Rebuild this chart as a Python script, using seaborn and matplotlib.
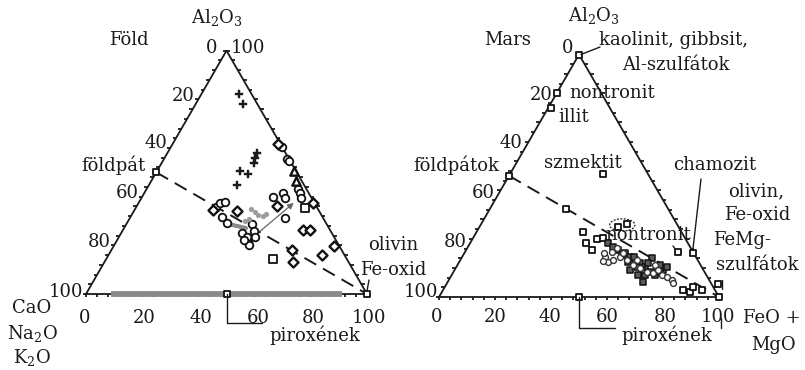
import numpy as np
import matplotlib
matplotlib.use("Agg")
import matplotlib.pyplot as plt
from matplotlib.lines import Line2D
from matplotlib.patches import Ellipse
from matplotlib.collections import LineCollection
import seaborn as sns

sns.set_style("white")
plt.rcParams["font.family"] = ["DejaVu Serif"]
plt.rcParams["mathtext.fontset"] = "dejavuserif"

# ---------------- Föld (Earth) : Al2O3 %, FeO+MgO % (remainder CaO+Na2O+K2O)
earth_plus_al = [82.2, 78.1, 57.9, 55.9, 53.8, 50.5, 49.3, 44.8]
earth_plus_fm = [13.3, 16.9, 31.9, 32.2, 32.9, 29.5, 33.0, 31.3]

earth_circle_al = [60.4, 55.5, 54.7, 43.1, 41.5, 39.4, 39.9, 41.5, 39.4, 31.2,
                   35.8, 37.4, 37.8, 31.6, 29.2, 25.1, 21.4, 20.1, 28.8, 25.9,
                   23.4, 23.4, 22.2]
earth_circle_fm = [39.6, 43.8, 44.9, 53.8, 55.4, 56.8, 46.6, 49.4, 51.1, 55.2,
                   28.4, 29.0, 30.6, 32.6, 35.6, 43.0, 47.0, 47.9, 44.7, 46.8,
                   48.4, 45.6, 45.1]

earth_diamond_al = [61.6, 37.4, 19.7, 16.0, 26.3, 26.3, 18.1, 13.1, 36.2, 34.5, 34.1]
earth_diamond_fm = [37.5, 62.1, 78.4, 76.0, 64.1, 66.6, 64.3, 67.1, 49.9, 27.9, 36.7]

earth_triangle_al = [50.5, 46.4]
earth_triangle_fm = [48.7, 51.5]

earth_square_al = [35.3, 14.4]
earth_square_fm = [60.2, 59.3]

earth_grey_al = [34.9, 33.7, 32.5, 32.1, 32.9, 30.0, 30.8]
earth_grey_fm = [41.3, 43.3, 45.0, 47.0, 47.6, 41.6, 42.6]

earth_trend_al = [28.8, 27.1]
earth_trend_fm = [36.1, 43.4]
earth_arrow_al = [25.1, 38.2]
earth_arrow_fm = [48.7, 55.6]

earth_pyroxene_range = [9.0, 91.0]

# end members: földpát, piroxének, olivin/Fe-oxid
earth_ref_al = [50, 0, 0]
earth_ref_fm = [0, 50, 100]

# ---------------- Mars
mars_ref_al = [100, 84, 78, 50, 50.7, 36.3, 18.1, 18.6, 28.9, 30.1, 0, 0,
               2.9, 2.1, 4.1, 2.9, 5.4]
mars_ref_fm = [0, 0, 1, 0, 33.2, 27.2, 81.6, 76.1, 49.5, 52.1, 50, 100,
               85.7, 88.6, 88.7, 92.5, 96.9]

mars_open_sq_al = [26.8, 22.3, 19.4, 23.9, 24.3]
mars_open_sq_fm = [38.0, 41.4, 44.9, 44.5, 46.4]

mars_dark_sq_al = [22.3, 20.6, 19.4, 18.1, 16.5, 15.3, 14.0, 12.4, 10.3, 12.0,
                   11.1, 12.4, 6.2, 9.1, 11.1, 12.4, 16.1, 13.2,
                   17.3, 14.4, 16.5, 11.1, 14.0, 9.1, 10.3, 9.1]
mars_dark_sq_fm = [49.2, 51.8, 54.2, 57.4, 60.0, 62.4, 64.8, 67.4, 70.2, 71.9,
                   74.4, 75.2, 69.8, 69.0, 62.6, 64.5, 68.0, 72.3,
                   56.7, 60.3, 61.4, 67.0, 67.6, 72.6, 73.8, 66.5]

mars_circle_al = [16.5, 14.4, 15.3, 18.6, 16.5, 15.3, 13.2, 12.0, 10.3, 9.9,
                  9.1, 8.2, 7.0, 5.8, 20.2, 18.1, 13.2, 11.1, 15.3, 14.8, 18.1]
mars_circle_fm = [51.0, 53.2, 54.5, 52.5, 56.4, 59.5, 62.7, 65.8, 69.1, 71.5,
                  75.1, 77.3, 79.7, 80.7, 53.5, 56.7, 70.5, 72.7, 63.1, 51.2, 49.9]

mars_ellipse_center = (29.7, 50.6)

tick_labels = ["0", "20", "40", "60", "80", "100"]

SQ3 = np.sqrt(3) / 2
W, H = 805, 370
FS = 13
INK = "#1a1a1a"


def cart(al, fm):
    al = np.asarray(al, dtype=float)
    fm = np.asarray(fm, dtype=float)
    return fm + al / 2, al * SQ3


fig = plt.figure(figsize=(W / 100, H / 100), dpi=100)


def make_axes(x0, x1, ox, oy, s):
    ax = fig.add_axes([x0 / W, 0, (x1 - x0) / W, 1])
    ax.set_xlim((x0 - ox) / s, (x1 - ox) / s)
    ax.set_ylim((oy - H) / s, oy / s)
    ax.axis("off")
    return ax


ax_e = make_axes(0, 402, 86, 294, 2.81)
ax_m = make_axes(402, 805, 439, 297, 2.80)


def frame(ax):
    ax.plot([0, 100, 50, 0], [0, 0, 100 * SQ3, 0], color=INK, lw=1.3,
            solid_joinstyle="miter", zorder=2)
    segs = []
    for v in range(0, 101, 4):
        segs.append([(v, 0), (v, -1.2)])
        xl, yl = cart(100 - v, 0)
        segs.append([(xl, yl), (xl - 1.2, yl)])
        xr, yr = cart(v, 100 - v)
        segs.append([(xr, yr), (xr + 1.2, yr)])
    ax.add_collection(LineCollection(segs, colors=INK, linewidths=1.3, zorder=2))
    # dashed tie line feldspar -> olivine
    x, y = cart([50, 0], [0, 100])
    ax.plot(x, y, color=INK, lw=1.4, dashes=(7, 4), zorder=2)


def scat(ax, al, fm, marker, s, face, edge="#111111", lw=1.3, z=4):
    x, y = cart(al, fm)
    sns.scatterplot(x=x, y=y, marker=marker, s=s, color=face, edgecolor=edge,
                    linewidth=lw, ax=ax, zorder=z, legend=False)


def to_fig(ax, al, fm):
    x, y = cart(al, fm)
    px, py = ax.transData.transform((float(x), float(y)))
    return px, py


def fig_line(pts, lw=1.0, color=INK):
    xs = [p[0] / W for p in pts]
    ys = [p[1] / H for p in pts]
    fig.add_artist(Line2D(xs, ys, transform=fig.transFigure, color=color, lw=lw))


def txt(x, y, s, ha="center", size=FS, z=10):
    fig.text(x / W, 1 - y / H, s, ha=ha, va="center", fontsize=size, color=INK,
             zorder=z)


# ---------------- Föld panel
frame(ax_e)
xb, yb = cart([0, 0], earth_pyroxene_range)
ax_e.plot(xb, yb, color="#8a8a8a", lw=4.2, solid_capstyle="butt", zorder=3)
xt, yt = cart(earth_trend_al, earth_trend_fm)
ax_e.plot(xt, yt, color="#8a8a8a", lw=3.0, zorder=3)
xa, ya = cart(earth_arrow_al, earth_arrow_fm)
ax_e.annotate("", xy=(xa[1], ya[1]), xytext=(xa[0], ya[0]),
              arrowprops=dict(arrowstyle="-|>", color="#666666", lw=0.9,
                              mutation_scale=9), zorder=5)
scat(ax_e, earth_plus_al, earth_plus_fm, "P", 30, INK, edge=INK, lw=0.3)
scat(ax_e, earth_circle_al, earth_circle_fm, "o", 30, "white")
scat(ax_e, earth_diamond_al, earth_diamond_fm, "D", 26, "white", lw=1.7)
scat(ax_e, earth_triangle_al, earth_triangle_fm, "^", 36, "white", lw=1.7)
scat(ax_e, earth_square_al, earth_square_fm, "s", 26, "white")
scat(ax_e, earth_grey_al, earth_grey_fm, "o", 12, "#9a9a9a", edge="#9a9a9a", lw=0.3)
scat(ax_e, earth_ref_al, earth_ref_fm, "s", 22, "white", lw=1.3, z=6)

# leaders
px0, py0 = to_fig(ax_e, 0, 50)
fig_line([(px0, py0), (px0, H - 323), (262, H - 323)])
pxo, pyo = to_fig(ax_e, 0, 100)
fig_line([(pxo, pyo + 3), (369, H - 280)])

txt(217, 17, r"Al$_2$O$_3$")
txt(129, 40, "Föld")
txt(212, 48, "0")
txt(248, 48, "100")
for lab, (x, y) in zip(tick_labels, [(212, 48), (183, 96), (156, 143), (127, 193), (99, 242), (66, 292)]):
    if lab != "0":
        txt(x, y, lab)
txt(113, 165, "földpát")
txt(32, 308, "CaO")
txt(32, 333, r"Na$_2$O")
txt(32, 357, r"K$_2$O")
for lab, x in zip(tick_labels, [85, 144, 201, 258, 313, 369]):
    txt(x, 318, lab)
txt(315, 335, "piroxének")
txt(393, 245, "olivin")
txt(393, 270, "Fe-oxid")

# ---------------- Mars panel
frame(ax_m)
ex, ey = cart(*mars_ellipse_center)
ax_m.add_patch(Ellipse((ex, ey), 9.0, 4.4, fill=False, ls=(0, (1.5, 1.2)),
                       lw=0.9, ec=INK, zorder=3))
scat(ax_m, mars_open_sq_al, mars_open_sq_fm, "s", 22, "white")
scat(ax_m, mars_dark_sq_al, mars_dark_sq_fm, "s", 22, "#5a5a5a", lw=1.1, z=4)
scat(ax_m, mars_circle_al, mars_circle_fm, "o", 18, "white", edge="#333333", lw=1.0, z=5)
scat(ax_m, mars_ref_al, mars_ref_fm, "s", 22, "white", lw=1.3, z=6)

pxa, pya = to_fig(ax_m, 100, 0)
fig_line([(pxa + 2, pya), (600, H - 47)])
pxc, pyc = to_fig(ax_m, 18.1, 81.6)
fig_line([(pxc, pyc + 3), (701, H - 179)])
pxn, pyn = to_fig(ax_m, 18.6, 76.1)
fig_line([(pxn - 3, pyn + 3), (673, H - 246)])
pxp, pyp = to_fig(ax_m, 0, 50)
fig_line([(pxp, pyp), (pxp, H - 328), (615, H - 328)])
fig_line([(721, H - 318), (721, H - 328)])
pxf, pyf = to_fig(ax_m, 5.4, 96.9)
fig_line([(pxf + 4, pyf + 4), (pxf + 4, pyf - 5)])

txt(594, 15, r"Al$_2$O$_3$")
txt(508, 40, "Mars")
txt(568, 48, "0")
txt(673, 40, "kaolinit, gibbsit,")
txt(676, 65, "Al-szulfátok")
for lab, (x, y) in zip(tick_labels, [(568, 48), (541, 95), (511, 143), (483, 193), (455, 242), (421, 292)]):
    if lab != "0":
        txt(x, y, lab)
txt(612, 93, "nontronit")
txt(574, 117, "illit")
txt(456, 165, "földpátok")
txt(583, 163, "szmektit")
txt(715, 165, "chamozit")
txt(756, 191, "olivin,")
txt(757, 215, "Fe-oxid")
txt(742, 240, "FeMg-")
txt(757, 265, "szulfátok")
txt(648, 235, "nontronit")
for lab, x in zip(tick_labels, [437, 495, 550, 607, 665, 718]):
    txt(x, 317, lab)
txt(772, 318, "FeO +")
txt(773, 345, "MgO")
txt(667, 335, "piroxének")

fig.savefig("out.png", dpi=100, facecolor="white")
